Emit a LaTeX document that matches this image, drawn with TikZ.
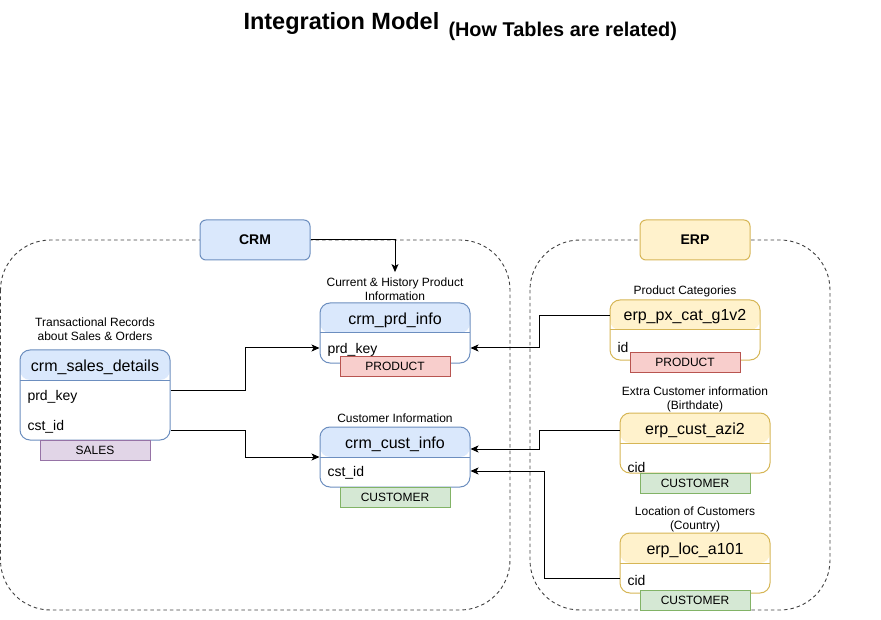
\documentclass[tikz,border=0pt]{standalone}
\usepackage{fontspec}
\setmainfont{Liberation Sans}
\usetikzlibrary{arrows.meta}

\definecolor{crmfill}{HTML}{DAE8FC}
\definecolor{crmdraw}{HTML}{6C8EBF}
\definecolor{erpfill}{HTML}{FFF2CC}
\definecolor{erpdraw}{HTML}{D6B656}
\definecolor{prodfill}{HTML}{F8CECC}
\definecolor{proddraw}{HTML}{B85450}
\definecolor{custfill}{HTML}{D5E8D4}
\definecolor{custdraw}{HTML}{82B366}
\definecolor{salesfill}{HTML}{E1D5E7}
\definecolor{salesdraw}{HTML}{9673A6}

\begin{document}
\begin{tikzpicture}[x=1pt, y=-1pt, line width=1pt,
    >={Stealth[length=8pt,width=7pt,inset=2pt]},
    group/.style={draw=black!75, dash pattern=on 3.5pt off 3pt, line width=0.9pt, rounded corners=50pt},
    src/.style={draw=#1draw, fill=#1fill, rounded corners=6pt, minimum width=110, minimum height=40,
      font=\bfseries\fontsize{14}{16}\selectfont},
    tbl/.style={draw=#1draw, fill=white, rounded corners=10pt, minimum width=150, minimum height=60, inner sep=0pt,
      path picture={
        \fill[#1fill] (path picture bounding box.north west) rectangle ([yshift=-30pt]path picture bounding box.north east);
        \draw[#1draw] ([yshift=-30pt]path picture bounding box.north west) -- ([yshift=-30pt]path picture bounding box.north east);}},
    ttl/.style={font=\fontsize{16}{18}\selectfont, inner sep=0pt},
    fld/.style={font=\fontsize{14}{16}\selectfont, anchor=west, inner sep=0pt},
    tag/.style={draw=#1draw, fill=#1fill, line width=0.9pt, minimum width=110, minimum height=20, inner sep=0pt,
      font=\fontsize{12}{14}\selectfont},
    lbl/.style={font=\fontsize{12}{14}\selectfont, align=center, inner sep=2pt},
    link/.style={->, line width=1pt}]

\useasboundingbox (0,0) rectangle (881,620);

% title
\node[anchor=base west, inner sep=0pt, font=\bfseries\fontsize{23.5}{28}\selectfont] (title) at (243,30) {Integration Model};
\node[anchor=base west, inner sep=0pt, font=\bfseries\fontsize{19.9}{24}\selectfont] (subtitle) at (448,37) {(How Tables are related)};

% dashed source groups
\draw[group] (0.5,240) rectangle (510,610);
\draw[group] (530,240) rectangle (830,610);
\node[src=crm] (crm) at (255,240) {CRM};
\node[src=erp] (erp) at (695,240) {ERP};

% crm tables
\node[lbl] (salesL) at (95,329) {Transactional Records\\about Sales \& Orders};
\node[tbl=crm, minimum height=90] (sales) at (95,395) {};
\node[ttl] (salesT) at ([yshift=-17.5pt]sales.north) {crm\_sales\_details};
\node[fld] (salesF1) at (27,397) {prd\_key};
\node[fld] (salesF2) at (27,427) {cst\_id};
\node[tag=sales] (salesG) at (95,450) {SALES};

\node[lbl] (prdL) at (395,289) {Current \& History Product\\Information};
\node[tbl=crm] (prd) at (395,333) {};
\node[ttl] (prdT) at ([yshift=-17.5pt]prd.north) {crm\_prd\_info};
\node[fld] (prdF1) at (327,350) {prd\_key};
\node[tag=prod] (prdG) at (395,366) {PRODUCT};

\node[lbl] (custL) at (395,418) {Customer Information};
\node[tbl=crm] (cust) at (395,457) {};
\node[ttl] (custT) at ([yshift=-17.5pt]cust.north) {crm\_cust\_info};
\node[fld] (custF1) at (327,473) {cst\_id};
\node[tag=cust] (custG) at (395,497) {CUSTOMER};

% erp tables
\node[lbl] (catL) at (685,291) {Product Categories};
\node[tbl=erp] (cat) at (685,330) {};
\node[ttl] (catT) at ([yshift=-17.5pt]cat.north) {erp\_px\_cat\_g1v2};
\node[fld] (catF1) at (617,347) {id};
\node[tag=prod] (catG) at (685,362) {PRODUCT};

\node[lbl] (aziL) at (695,399) {Extra Customer information\\(Birthdate)};
\node[tbl=erp] (azi) at (695,443) {};
\node[ttl] (aziT) at ([yshift=-17.5pt]azi.north) {erp\_cust\_azi2};
\node[fld] (aziF1) at (627,467) {cid};
\node[tag=cust] (aziG) at (695,483) {CUSTOMER};

\node[lbl] (locL) at (695,519) {Location of Customers\\(Country)};
\node[tbl=erp] (loc) at (695,563) {};
\node[ttl] (locT) at ([yshift=-17.5pt]loc.north) {erp\_loc\_a101};
\node[fld] (locF1) at (627,580) {cid};
\node[tag=cust] (locG) at (695,600) {CUSTOMER};

% relations
\draw[link] (crm.east) -| ([yshift=3pt]prdL.north);
\draw[link] ([yshift=5pt]sales.east) -- ++(75,0) |- ([yshift=-15pt]prd.west);
\draw[link] ([yshift=-35pt]sales.east) -- ++(75,0) |- (cust.west);
\draw[link] ([yshift=14pt]cat.west) -- ++(-70,0) |- ([yshift=-15pt]prd.east);
\draw[link] ([yshift=13pt]azi.west) -- ++(-80,0) |- ([yshift=8pt]cust.east);
\draw[link] ([yshift=-15pt]loc.west) -- ++(-75,0) |- ([yshift=-14pt]cust.east);

\end{tikzpicture}
\end{document}
